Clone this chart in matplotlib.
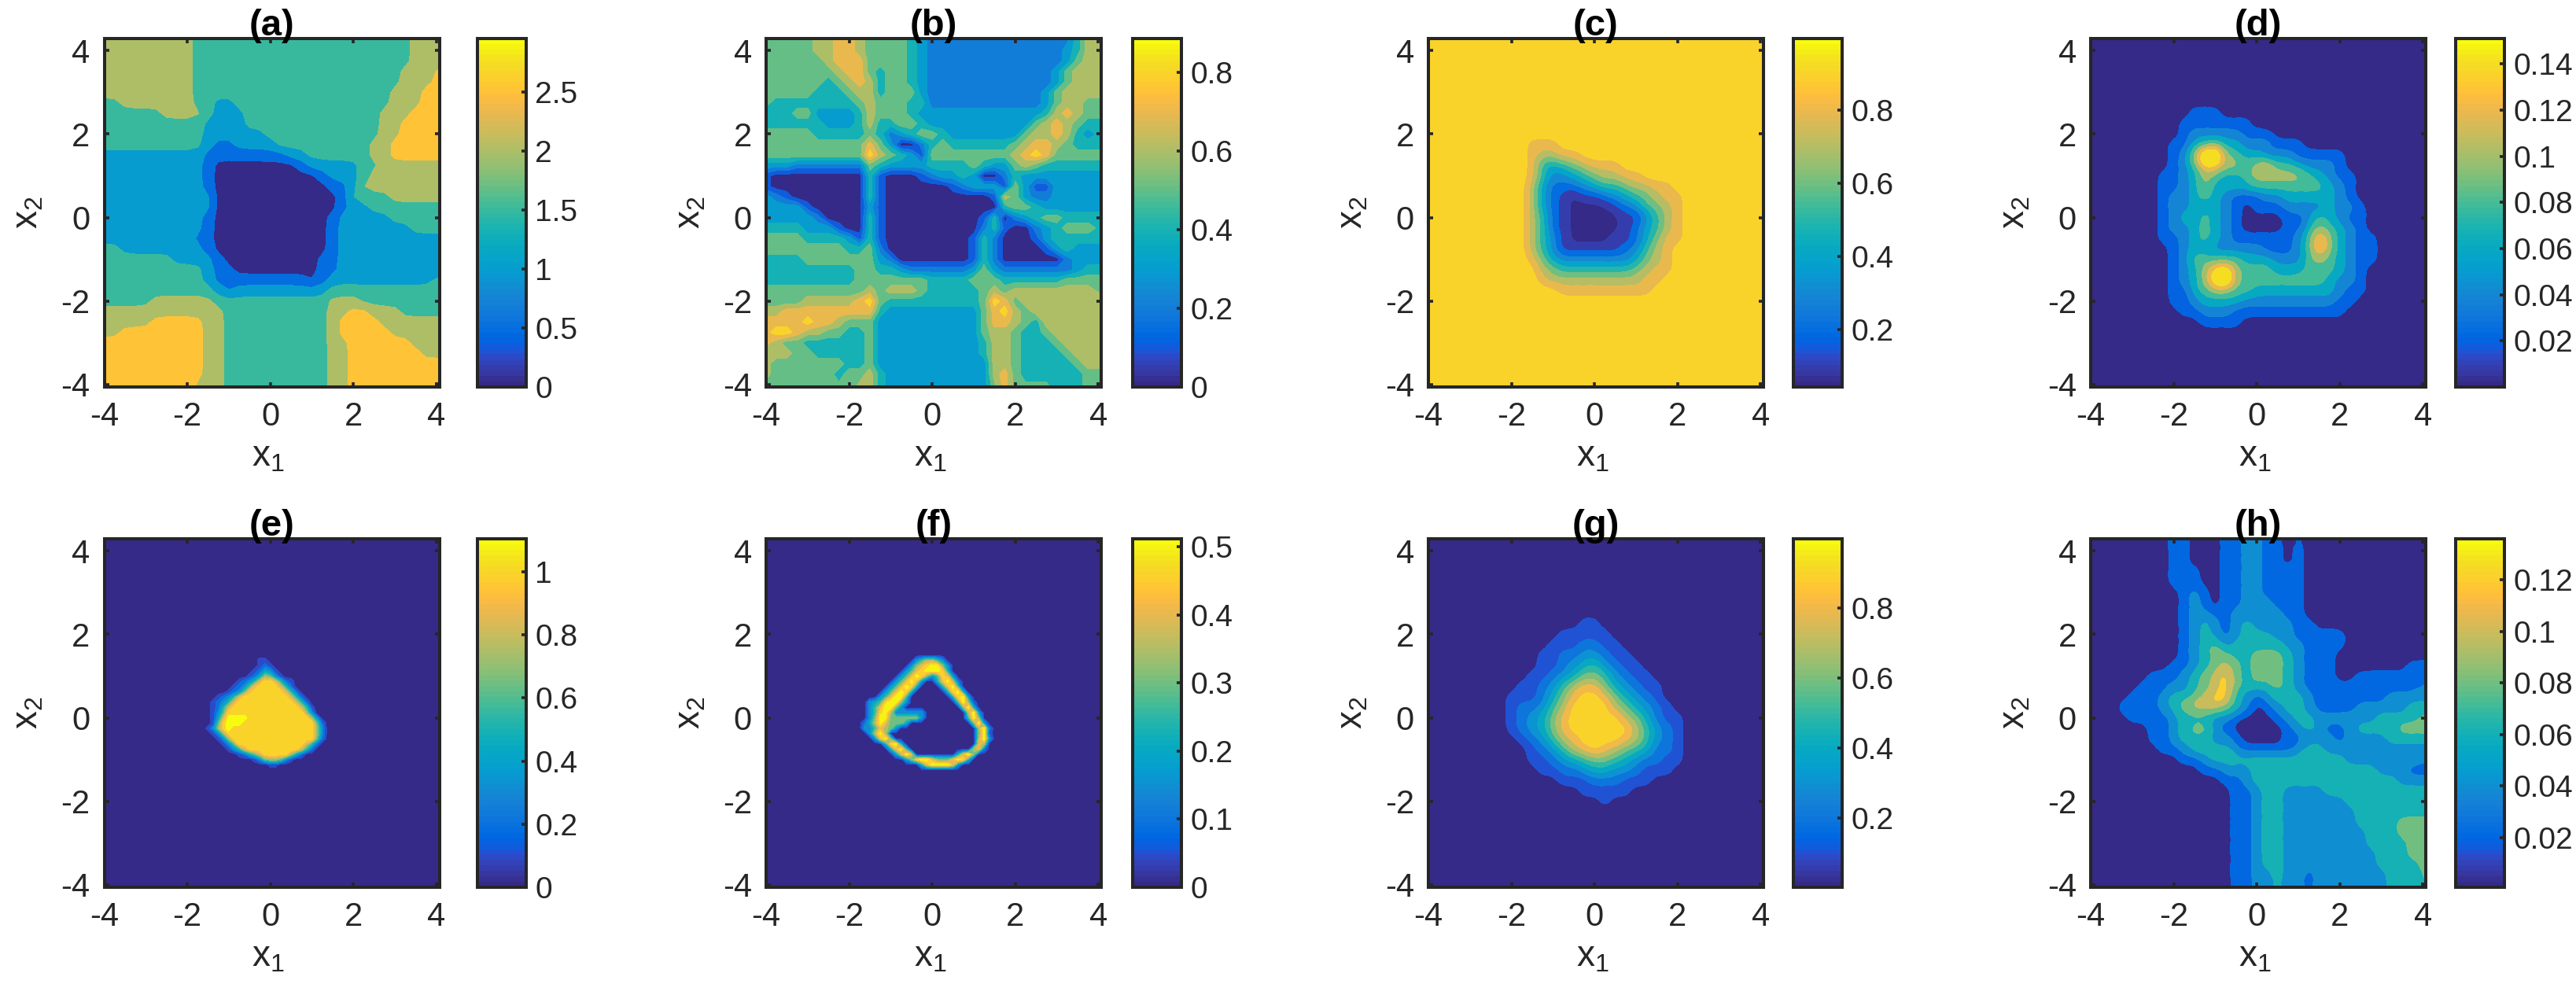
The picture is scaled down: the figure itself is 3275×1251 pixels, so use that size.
import numpy as np
import matplotlib
matplotlib.use("Agg")
import matplotlib.pyplot as plt
import matplotlib.tri as mtri
from matplotlib.cm import ScalarMappable
from matplotlib.colors import ListedColormap, Normalize

plt.rcParams['font.family'] = ['Liberation Sans', 'DejaVu Sans']
plt.rcParams['mathtext.default'] = 'regular'
plt.rcParams['axes.unicode_minus'] = False

# parula, 64 steps
parula = [
    (.2081, .1663, .5292), (.2116, .1898, .5777), (.2123, .2138, .6270), (.2081, .2386, .6771),
    (.1959, .2645, .7279), (.1707, .2919, .7792), (.1253, .3242, .8303), (.0591, .3598, .8683),
    (.0117, .3875, .8820), (.0060, .4086, .8828), (.0165, .4266, .8786), (.0329, .4430, .8720),
    (.0498, .4586, .8641), (.0629, .4737, .8554), (.0723, .4887, .8467), (.0779, .5040, .8384),
    (.0793, .5200, .8312), (.0749, .5375, .8263), (.0641, .5570, .8240), (.0488, .5772, .8228),
    (.0343, .5966, .8199), (.0265, .6137, .8135), (.0239, .6287, .8038), (.0231, .6418, .7913),
    (.0228, .6535, .7768), (.0267, .6642, .7607), (.0384, .6743, .7436), (.0590, .6838, .7254),
    (.0843, .6928, .7062), (.1133, .7015, .6859), (.1453, .7098, .6646), (.1801, .7177, .6424),
    (.2178, .7250, .6193), (.2586, .7317, .5954), (.3022, .7376, .5712), (.3482, .7424, .5473),
    (.3953, .7459, .5244), (.4420, .7481, .5033), (.4871, .7491, .4840), (.5300, .7491, .4661),
    (.5709, .7485, .4494), (.6099, .7473, .4337), (.6473, .7456, .4188), (.6834, .7435, .4044),
    (.7184, .7411, .3905), (.7525, .7384, .3768), (.7858, .7356, .3633), (.8185, .7327, .3498),
    (.8507, .7299, .3360), (.8824, .7274, .3217), (.9139, .7258, .3063), (.9450, .7261, .2886),
    (.9739, .7314, .2666), (.9938, .7455, .2403), (.9990, .7653, .2164), (.9955, .7861, .1967),
    (.9880, .8066, .1794), (.9789, .8271, .1633), (.9697, .8481, .1475), (.9626, .8705, .1309),
    (.9589, .8949, .1132), (.9598, .9218, .0948), (.9661, .9514, .0755), (.9763, .9831, .0538),
]
cmap = ListedColormap(parula)

# each text row is one grid row, top row first; a character is the contour band read there
rows_a = [
    "444444444 333333333333333333333 444",
    "444444444 333333333333333333333 444",
    "444444444 333333333333333333333 444",
    "444444444 33333333333333333333 444 5",
    "444444444 33333333333333333333 444 5",
    "444444444 3333333333333333333 444 55",
    "33 4444444 33 22 333333333333333 444 55",
    "333333 4444 3 222 3333333333333 444 555",
    "3333333333 2222 3333333333333 44 5555",
    "3333333333 222222 33333333333 44 5555",
    "3333333333 2 11 2222 333333333 44 55555",
    "2222222222 11111111 22 333333 44 55555",
    "2222222222 1 00000000 1 22222 33 444444",
    "2222222222 1 0000000000 1 222 3 4444444",
    "2222222222 1 00000000000 11 2 44444444",
    "22222222222 000000000000 1 3333 44444",
    "22222222222 000000000000 1 22 3333333",
    "2222222222 1 00000000000 1 22222 33333",
    "2222222222 1 00000000000 1 2222222 333",
    "222222222 11 00000000000 1 2222222222",
    "33 22222222 1 00000000000 1 2222222222",
    "3333333 2222 1 000000000 11 2222222222",
    "3333333333 2 11 00000000 11 2222222222",
    "3333333333 2 111111111 0 1 2222222222 3",
    "33333333333 2 1 222222222 33333333333",
    "33333 444444 33333333333 444 33333333",
    "444444444444 3333333333 44 55 444 3333",
    "44444 55555 44 3333333333 4 5555 444444",
    "44 55555555 44 3333333333 4 55555 44444",
    "5555555555 44 3333333333 44 555555 444",
    "5555555555 44 3333333333 44 5555555 44",
    "5555555555 44 3333333333 44 555555555",
    "5555555555 44 3333333333 44 555555555",
    "555555555 444 3333333333 44 555555555",
]
rows_b = [
    "55555 66 77 6 5555 4 3 22222222222222 4 66",
    "55555 66 77 6 5555 4 3 2222222222222 3 4 66",
    "555555 6 777 5555 4 3 2222222222222 3 5 66",
    "5555555 6775 455 43 222222222222 3 5 666",
    "555555 4 5 6 7 6 4 55 4 3 222222222222 3 5 666",
    "55555 444 5 66 4 555 3 22222222222 3 5 6666",
    "5 44444444 5 6 555 44 22222222222 3 5 66 55",
    "44455 3333 4 6 555 4 3 33333333333 4 6 7 6 5 5",
    "444444 333 4 6 44 55 4 3333333333 5 6 7 6 5 44",
    "55555 4444 4 5 4 2 3 4 55 4 3333333 5 66 7 6 4 3 4",
    "5555555555 7 5 3 00 2 4 5 4 44444 5 6 77 6 5 444",
    "5555555555 8 6 5 4 3 1 555 5555 5 6 7 8 7 5 5555",
    "333 222222 2 5 4 3 333 4444 5 4 33 5 6 5 444444",
    "1 000000000 4 1 000 1 2 33 4 3 0 0 2 4 3 3333333",
    "1 000000000 4 1 000000 1 2 333 1 5 3 11 33333",
    "3 2 1 0000000 4 1 0000000000 1 6 5 3 22 33333",
    "3333 1 00000 3 1 00000000000 4 5 5 4 333333",
    "33333 2 0000 4 1 000000000 1 4 0 2 3 4 55 4444",
    "4444 333 1 00 4 1 000000000 2 4 1 00 2 3 4 555 4",
    "5555 4444 3 1 4 1 00000000 1 4 2 000 1 3 44444",
    "55555555 44 5 2 00000000 1 4 2 0000 1 3 4 333",
    "4444 55555 55 3 2 0000000 1 4 2 000000 2 333",
    "444444444 55 4 4 3 2 22222 3 5 3 2222222 3 44",
    "444444444 555 5555 4444 555 444444 5555",
    "55555555 55 6 5 666 5 44444 5 6 5 66666666 5",
    "5555 6 66 66 7 8 5 444 444444 5 8 7 5 6 6666666",
    "66 7777 7777 7 4 333333333 5 7 8 6 5 6666666",
    "7777 8 77 6 5 5 5 3333333333 5 77 6 5 4 666666",
    "7 88 7 66 55 44 5 3333333333 5 66 5 44 5 66666",
    "7 6 55 444444 5 3333333333 4 66 5 444 5 6666",
    "666 55 44444 5 3333333333 4 66 5 4444 5 666",
    "6 5555555 44 5 3333333333 3 66 5 44444 5 66",
    "6 555555 4 55 6 4 3333333333 6 7 5 444444 55",
    "555555555 66 4 3333333333 5 7 5 555 444 55",
]
rows_c = [
    "999999999999999999999",
    "999999999999999999999",
    "999999999999999999999",
    "999988899999999999999",
    "999987788999999999999",
    "999985456788899999999",
    "999985334567788999999",
    "999974222345567788999",
    "999974210112345678899",
    "999974210000123567899",
    "999975210000011357899",
    "999975210000012457899",
    "999975310000112468899",
    "999975311111123578999",
    "999986433333334678999",
    "999997655555556788999",
    "999998777777777889999",
    "999999988888888899999",
    "999999999999999999999",
    "999999999999999999999",
    "999999999999999999999",
]
rows_d = [
    "0000000000000000000000000",
    "000000 111 0000000000000000",
    "00000 1111111 0000000000000",
    "00000 1 22222 111 00000000000",
    "0000 11 3 4 5 33 222 111 00000000",
    "0000 1 2 5 9 9 5 4 33 222 11111 0000",
    "0000 1 2 4 7 7 5 5 4 5 6 4 4 3 2 2 2 1 0000",
    "000 1 1 2 3 5 4 3 3 4 5 5 5 5 5 4 3 2 1 1 000",
    "000 1 1 2 3 5 3 3 3 3 4 4 4 4 4 4 4 3 2 1 000",
    "000 1 2 2 3 4 3 2 1 1 1 2 2 3 3 3 3 3 2 1 000",
    "000 1 2 2 3 3 3 2 1 0 1 1 1 2 2 2 2 3 2 2 1 00",
    "000 1 2 3 3 4 3 2 1 0 0 0 0 1 1 2 4 3 2 1 1 00",
    "000 1 2 2 3 4 3 2 1 0 0 0 0 1 1 3 5 4 3 2 1 00",
    "000 1 1 2 3 4 3 2 1 1 1 1 1 1 2 4 7 5 3 2 1 1 0",
    "0000 1 2 3 3 2 2 2 2 2 1 1 1 2 4 7 5 3 2 1 1 0",
    "0000 1 2 4 4 4 4 4 3 3 3 2 2 2 4 5 4 3 2 1 1 0",
    "0000 1 2 3 5 7 8 5 4 4 4 3 3 3 4 4 4 3 2 1 00",
    "0000 1 2 3 5 8 9 5 4 4 4 4 4 4 4 4 3 2 2 1 00",
    "0000 1 1 3 4 5 5 4 4 3 3 3 3 3 3 3 3 2 1 1 00",
    "0000 1 1 2 3 3 3 3 2 2 2 2 2 2 2 2 2 1 1 000",
    "00000 1 1 2 2 2 1 1 1 1 1 1 1 1 1 1 1 0000",
    "0000000 1111 00000000000000",
    "0000000000000000000000000",
    "0000000000000000000000000",
    "0000000000000000000000000",
]
rows_e = [
    "000000000000000000000000000",
    "000000000000110000000000000",
    "000000000000121000000000000",
    "000000000001243100000000000",
    "000000000012476310000000000",
    "00000000 12358aa8521 00000000",
    "0000000 12369aaaa852 00000000",
    "000000 12369 aaaaaa 852 0000000",
    "0000 12358 aaaaaaaaa 852 000000",
    "000 12358 aaaaaaaaaaa 852 00000",
    "000 1258 aaaaaaaaaaaaa 851 0000",
    "000 136 aaaaaaaaaaaaaaa 73 0000",
    "000 148 bbbb aaaaaaaaaaaa 73 000",
    "000 16 a bbb aaaaaaaaaaaaaa 62 00",
    "00 137 a b aaaaaaaaaaaaaaaa 73 00",
    "000 137 aaaaaaaaaaaaaaaaa 73 00",
    "0000 137 aaaaaaaaaaaaaaaa 62 00",
    "00000 136 aaaaaaaaaaaaa 852 000",
    "000000 1358 aaaaaaaaaa 852 0000",
    "00000000 12468 aaaaa 742 000000",
    "00000000000 13677631 00000000",
    "000000000000001100000000000",
    "000000000000000000000000000",
]
rows_f = [
    "0000000000000000000000000000",
    "000000000000 357753 0000000000",
    "00000000000 3689aa6 3 000000000",
    "0000000000 35 8 9 aaa 9 4 000000000",
    "000000000 358a96 3 59 8 3 00000000",
    "00000000 358a83 00 48a72 0000000",
    "0000000 358a94 0000 48a5 0000000",
    "000000 358a94 000000 49a4 000000",
    "00000 358aa5 00000000 49a3 00000",
    "000 34 59aa63 000000000 5a61 0000",
    "000 358aa63 00000000000 6a4 0000",
    "000 359a7 333333 00000000 7a3 000",
    "000 36aa 666666 3 00000000 5a6 000",
    "00 247a86664 000000000000 6a3 00",
    "00 3358763 000000000000000 7a2 0",
    "000 37a7 00000000000000000 6a1 0",
    "0000 38a6 0000000000000000 7a3 0",
    "000000 49a4 00000000000000 87 00",
    "0000000 48a5 000000000000 782 00",
    "00000000 37a8 00000000 48a6 0000",
    "0000000000 369aa8666 8a94 00000",
    "0000000000000 48aaaa83 0000000",
    "0000000000000000000000000000",
]
rows_g = [
    "000000000000000000000",
    "000000000 11 0000000000",
    "0000000 11111 000000000",
    "000000 1112211 00000000",
    "00000 112233211 0000000",
    "00000 1123453211 000000",
    "0000 112346653211 00000",
    "000 11235788643211 0000",
    "00 111246899864321 0000",
    "00 1223579999764321 000",
    "00 12346899999764211 00",
    "00 12346899999975321 00",
    "000 1235789999875321 00",
    "0000 123578987654221 00",
    "0000 112345665432211 00",
    "00000 1122344332111 000",
    "0000000 111222111 00000",
    "000000000 11111 0000000",
    "00000000000 1 000000000",
    "000000000000000000000",
]
rows_h = [
    "00000000 11 000 11 22 11 0 1 000000000000",
    "00000000 11 000 11 22 11 0 1 000000000000",
    "00000000 11 000 11 22 11 0 1 000000000000",
    "00000000 111 00 11 22 1111 000000000000",
    "00000000 111 00 11 22 1111 000000000000",
    "000000000 1 2 1 0 11 22 1111 000000000000",
    "000000000 1 2 1 0 11 222 111 000000000000",
    "000000000 1 22 11 22222 11 000000000000",
    "000000000 1232 1 232 1 22 11 00000000000",
    "000000000 1232 1 2 333 22 11111 00000000",
    "000000000 1234 2 33333 22 1111 00000000",
    "000000000 123 44 33 444 3 2 111 000000000",
    "00000000 11 2 3 4 5 4 3 444 3 2 111 0000000 11",
    "000000 111 2 3 4 5 6 4 3 444 3 2 111 00 1111111",
    "00000 111 22 3 4 5 6 4 333 4 3 2 11111111111 2",
    "0000 111 2 33 4 5 66 3 2 1 2 333 2 1111111 2222",
    "000 1111 2 3 4 555 4 3 2 0 1 2 33 2 1111 22222 33",
    "0000 1111 2 333 22 1 000 1 2 33 222222 3333 4",
    "000000 11 2 3 44 2 1 00000 1 2 3 2 11 2 3333 444",
    "000000 11 2 333 22 1 0000 11 222 1 2222 3333",
    "0000000 11 2 3333 2 11111 2 33 2222222222",
    "000000000 11 2 3333333333333 22222222",
    "00000000000 11 222 333333333333 222 11",
    "0000000000000 11 2 33333333333333 222",
    "00000000000000 11 2 33 2222 3333333333",
    "00000000000000 11 2 33 222222 33333333",
    "00000000000000 11233 2222222 3333333",
    "00000000000000 11233 2222222 3333 444",
    "00000000000000 11233 22222222 333 444",
    "00000000000000 11233 22222222 3333 44",
    "00000000000000 11233 222222222 333 44",
    "00000000000000 11233 222222222 3333 4",
    "00000000000000 11223 22 1 2222222 333 4",
    "00000000000000 11223 22 1 2222222 3333",
]

# contour levels (a band runs from one level to the next), colour limits, ticks
levels_a = [0, .5, 1, 1.5, 2, 2.5]
levels_b = [0, .1, .2, .3, .4, .5, .6, .7, .8]
levels_c = [.04, .1, .2, .3, .4, .5, .6, .7, .8, .9]
levels_d = [0, .02, .04, .06, .08, .1, .12, .14]
levels_e = [0, .1, .2, .3, .4, .5, .6, .7, .8, .9, 1, 1.1]
levels_f = [0, .05, .1, .15, .2, .25, .3, .35, .4, .45, .5]
levels_g = [0, .1, .2, .3, .4, .5, .6, .7, .8, .9]
levels_h = [0, .02, .04, .06, .08, .1, .12]

clim_a = (0, 2.95)
clim_b = (0, .885)
clim_c = (.043, .997)
clim_d = (0, .151)
clim_e = (0, 1.105)
clim_f = (0, .512)
clim_g = (.0025, .998)
clim_h = (.0007, .136)

ticks_a = ['0', '0.5', '1', '1.5', '2', '2.5']
ticks_b = ['0', '0.2', '0.4', '0.6', '0.8']
ticks_c = ['0.2', '0.4', '0.6', '0.8']
ticks_d = ['0.02', '0.04', '0.06', '0.08', '0.1', '0.12', '0.14']
ticks_e = ['0', '0.2', '0.4', '0.6', '0.8', '1']
ticks_f = ['0', '0.1', '0.2', '0.3', '0.4', '0.5']
ticks_g = ['0.2', '0.4', '0.6', '0.8']
ticks_h = ['0.02', '0.04', '0.06', '0.08', '0.1', '0.12']

titles = ['(a)', '(b)', '(c)', '(d)', '(e)', '(f)', '(g)', '(h)']

W, H = 3275, 1251
FRAME = '#262626'
axes_left = [132.5, 974, 1816, 2658]
cbar_left = [607, 1440, 2280, 3122]
row_top = [49, 685]
ax_w, ax_h, cb_w = 426, 443, 62


def band_value(c, levels):
    # band midpoints; characters past the last level carry on at the last step
    k = int(c, 16)
    step = levels[-1] - levels[-2]
    lo = levels[k] if k < len(levels) else levels[-1] + (k - len(levels) + 1) * step
    hi = levels[k + 1] if k + 1 < len(levels) else lo + step
    return (lo + hi) / 2


def to_grid(rows, levels):
    out = [[band_value(c, levels) for c in r.replace(' ', '')] for r in rows]
    n = max(len(r) for r in out)
    return np.array([r + [r[-1]] * (n - len(r)) for r in out])[::-1]


def soften(Z):
    # light 1-4-1 pass to take the steps out of the band rows
    k = np.array([1, 4, 1]) / 6
    P = np.pad(Z, 1, mode='edge')
    P = np.apply_along_axis(lambda v: np.convolve(v, k, mode='same'), 0, P)
    P = np.apply_along_axis(lambda v: np.convolve(v, k, mode='same'), 1, P)
    return P[1:-1, 1:-1]


def draw(ax, cax, rows, levels, clim, ticks, x0, y_top, step, smooth, title):
    norm = Normalize(*clim)
    colors = [cmap(norm(v)) for v in levels]
    Z = to_grid(rows, levels)
    ny, nx = Z.shape
    x = x0 + step * np.arange(nx)
    y = y_top - step * np.arange(ny)[::-1]
    # full-width grids run out to the frame
    if x0 <= -4:
        x[0] = -4.05
        x[-1] = 4.12
        y[0] = -4.12
        y[-1] = 4.35
    ax.set_facecolor(colors[-1] if Z[0, 0] >= levels[-1] else colors[0])
    bounds = list(levels) + [1e3]
    if smooth == 2:
        Z = soften(Z)
        X, Y = np.meshgrid(x, y)
        tri = mtri.Triangulation(X.ravel(), Y.ravel())
        tf, zf = mtri.UniformTriRefiner(tri).refine_field(Z.ravel(), subdiv=3)
        zf = np.clip(zf, levels[0] + 1e-6, None)
        ax.tricontourf(tf, zf, levels=bounds, colors=colors)
    else:
        if smooth == 1:
            Z = soften(Z)
        ax.contourf(x, y, np.clip(Z, levels[0] + 1e-6, None), levels=bounds, colors=colors)
    ax.set_xlim(-4, 4.07)
    ax.set_ylim(-4.06, 4.29)
    ax.set_xticks([-4, -2, 0, 2, 4])
    ax.set_yticks([-4, -2, 0, 2, 4])
    ax.tick_params(direction='in', top=True, right=True, length=4.5, width=2.6,
                   labelsize=30, colors=FRAME, pad=13)
    for s in ax.spines.values():
        s.set_linewidth(2.9)
        s.set_color(FRAME)
    ax.set_xlabel('x$_1$', fontsize=33, color=FRAME)
    ax.set_ylabel('x$_2$', fontsize=33, color=FRAME)
    ax.xaxis.set_label_coords(0.49, -0.15)
    ax.yaxis.set_label_coords(-0.175, 0.5)
    ax.set_title(title, fontsize=34, fontweight='bold', color='black', pad=3)

    cb = plt.colorbar(ScalarMappable(norm=norm, cmap=cmap), cax=cax,
                      ticks=[float(t) for t in ticks])
    cb.ax.set_yticklabels(ticks)
    cb.outline.set_linewidth(2.9)
    cb.outline.set_edgecolor(FRAME)
    cb.ax.tick_params(direction='in', length=4.5, width=2.6, labelsize=28,
                      colors=FRAME, pad=8)


fig = plt.figure(figsize=(W / 100, H / 100), dpi=100)

panels = [
    (rows_a, levels_a, clim_a, ticks_a, -4, 4.25, .25, 1),
    (rows_b, levels_b, clim_b, ticks_b, -4, 4.25, .25, 0),
    (rows_c, levels_c, clim_c, ticks_c, -2.5, 2.5, .25, 2),
    (rows_d, levels_d, clim_d, ticks_d, -3, 2.75, .25, 2),
    (rows_e, levels_e, clim_e, ticks_e, -1.75, 1.5, .125, 0),
    (rows_f, levels_f, clim_f, ticks_f, -1.875, 1.5, .125, 0),
    (rows_g, levels_g, clim_g, ticks_g, -2.5, 2.5, .25, 2),
    (rows_h, levels_h, clim_h, ticks_h, -4, 4.25, .25, 2),
]

for k, p in enumerate(panels):
    top = row_top[k // 4]
    rect = [axes_left[k % 4] / W, 1 - (top + ax_h) / H, ax_w / W, ax_h / H]
    crect = [cbar_left[k % 4] / W, 1 - (top + ax_h) / H, cb_w / W, ax_h / H]
    ax = fig.add_axes(rect)
    cax = fig.add_axes(crect)
    draw(ax, cax, *p, titles[k])

fig.savefig('out.png', dpi=100)
